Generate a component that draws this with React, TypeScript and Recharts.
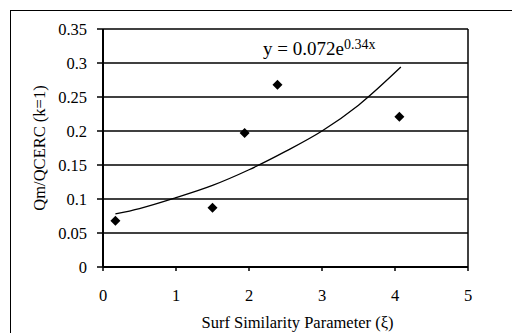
import React from 'react';
import {
  ComposedChart,
  Scatter,
  Line,
  XAxis,
  YAxis,
  CartesianGrid,
  ReferenceLine,
  Label,
} from 'recharts';

const surfParam = [0.17, 1.5, 1.94, 2.39, 4.06];
const flowRatio = [0.068, 0.087, 0.197, 0.268, 0.221];

// Exponential trendline, sampled from the drawn curve
const trendX = [0.17, 0.5, 1, 1.5, 2, 2.5, 3, 3.5, 4.08];
const trendY = [0.078, 0.086, 0.102, 0.12, 0.143, 0.17, 0.2, 0.238, 0.294];

const xTicks = [0, 1, 2, 3, 4, 5];
const yTicks = [0, 0.05, 0.1, 0.15, 0.2, 0.25, 0.3, 0.35];

const points = surfParam.map((x, i) => ({ x, y: flowRatio[i] }));
const trend = trendX.map((x, i) => ({ x, y: trendY[i] }));

const FONT = '"Liberation Serif", "Times New Roman", serif';

const Diamond = (props: any) => {
  const { cx, cy } = props;
  const r = 5;
  return (
    <path
      d={`M${cx},${cy - r} L${cx + r},${cy} L${cx},${cy + r} L${cx - r},${cy} Z`}
      fill="#000"
    />
  );
};

const App = () => {
  return (
    <div
      style={{
        position: 'absolute',
        left: 0,
        top: 0,
        width: 512,
        height: 333,
        background: '#fff',
        fontFamily: FONT,
        overflow: 'hidden',
      }}
    >
      <div
        style={{
          position: 'absolute',
          left: 10,
          top: 10,
          width: 520,
          height: 340,
          borderLeft: '1px solid #000',
          borderTop: '1px solid #000',
        }}
      />
      <ComposedChart
        width={512}
        height={333}
        margin={{ top: 29, right: 44, bottom: 0, left: 0 }}
        style={{ position: 'absolute', left: 0, top: 0 }}
      >
        <CartesianGrid horizontal vertical={false} stroke="#000" strokeWidth={1.4} />
        <XAxis
          dataKey="x"
          type="number"
          domain={[0, 5]}
          ticks={xTicks}
          allowDuplicatedCategory={false}
          height={66}
          axisLine={{ stroke: '#000', strokeWidth: 2 }}
          tickLine={{ stroke: '#000', strokeWidth: 1.5 }}
          tickSize={4}
          tickMargin={18}
          tick={{ fill: '#000', fontSize: 16.5, fontFamily: FONT }}
        >
          <Label
            value="Surf Similarity Parameter (ξ)"
            position="insideBottom"
            offset={5}
            dx={12}
            fill="#000"
            fontSize={16.5}
            fontFamily={FONT}
          />
        </XAxis>
        <YAxis
          dataKey="y"
          type="number"
          domain={[0, 0.35]}
          ticks={yTicks}
          width={103}
          axisLine={{ stroke: '#000', strokeWidth: 2 }}
          tickLine={{ stroke: '#000', strokeWidth: 1.5 }}
          tickSize={6}
          tickMargin={10}
          tick={{ fill: '#000', fontSize: 16.5, fontFamily: FONT }}
        >
          <Label
            value="Qm/QCERC (k=1)"
            angle={-90}
            position="center"
            dx={-12}
            fill="#000"
            fontSize={16.5}
            fontFamily={FONT}
          />
        </YAxis>
        <ReferenceLine x={5} stroke="#000" strokeWidth={1.5} />
        <Line
          data={trend}
          dataKey="y"
          type="monotone"
          stroke="#000"
          strokeWidth={1.3}
          dot={false}
          activeDot={false}
          isAnimationActive={false}
        />
        <Scatter
          data={points}
          dataKey="y"
          shape={<Diamond />}
          isAnimationActive={false}
        />
      </ComposedChart>
      <div
        style={{
          position: 'absolute',
          left: 263,
          top: 38,
          fontSize: 19,
          color: '#000',
          whiteSpace: 'nowrap',
          lineHeight: 1,
        }}
      >
        y = 0.072e<sup style={{ fontSize: 14, verticalAlign: 6 }}>0.34x</sup>
      </div>
    </div>
  );
};

export default App;
